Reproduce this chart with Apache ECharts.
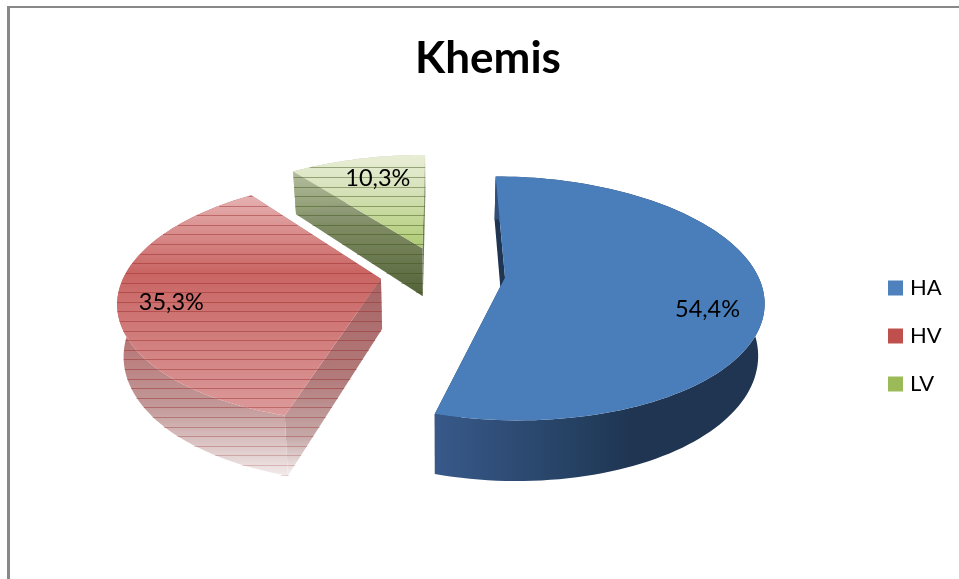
<!DOCTYPE html>
<html><head><meta charset="utf-8">
<style>html,body{margin:0;padding:0;background:#fff}#c{width:959px;height:579px}</style>
<script src="https://cdn.jsdelivr.net/npm/echarts@6/dist/echarts.min.js"></script></head>
<body><div id="c"></div>
<script>
const chartTitle = 'Khemis';
const categories = ['HA', 'HV', 'LV'];
const seriesValues = [54.4, 35.3, 10.3];
const legendColors = ['#4f81bd', '#c0504d', '#9bbb59'];

// Projection of the tilted pie (style constants, not data)
const CX = 441, CY = 273.5, RX = 256, RY = 117, K = 0.17, DEPTH = 50, SHRINK = 0.02;
const EXPLODE = [0.251, 0.237, 0.237], RIM_U = [0.985, 1, 1];
const LABEL_R = [0.775, 0.8, 0.65], LABEL_DY = [19, 6, -9];
const STRIPE_Y0 = 167.3, STRIPE_STEP = 9.6;
const G = echarts.graphic.LinearGradient;
const vGrad = s => new G(0, 0, 0, 1, s.map(c => ({offset: c[0], color: c[1]})));
const hGrad = s => new G(0, 0, 1, 0, s.map(c => ({offset: c[0], color: c[1]})));
const SKIN = [
  {top: '#4a7ebb', outer: hGrad([[0,'#38598a'],[0.45,'#243f60'],[0.6,'#1f3552'],[1,'#1f3552']]), wall: '#1f3552', stripe: null},
  {top: vGrad([[0,'#e6b2b2'],[0.35,'#c96563'],[0.6,'#cf7978'],[1,'#dc9b9b']]),
   outer: vGrad([[0,'#a86060'],[0.45,'#b56c6c'],[0.75,'#c29898'],[1,'#f2eaea']]),
   wall: vGrad([[0,'#a86464'],[0.5,'#b27a7a'],[0.8,'#c6a8a8'],[1,'#f6f0f0']]), stripe: [150,40,40]},
  {top: vGrad([[0,'#e8eed6'],[0.35,'#d8e3bd'],[1,'#aecb72']]),
   outer: vGrad([[0,'#c4cbb2'],[1,'#8c9a70']]),
   wall: vGrad([[0,'#b6bca8'],[0.45,'#7d8a62'],[1,'#54623a']]), stripe: [60,80,20]}
];
const total = seriesValues.reduce((a, b) => a + b, 0);
function proj(U, V, h) {
  const d = 1 + K * V, s = 1 - SHRINK * h;
  return [CX + RX * U / d * s, CY - RY * V / d + DEPTH * h / d];
}
function spans(polys, y) {
  const out = [];
  polys.forEach(p => {
    const xs = [];
    for (let i = 0; i < p.length; i++) {
      const a = p[i], b = p[(i + 1) % p.length];
      if ((a[1] <= y) !== (b[1] <= y)) xs.push(a[0] + (y - a[1]) / (b[1] - a[1]) * (b[0] - a[0]));
    }
    xs.sort((m, n) => m - n);
    for (let i = 0; i + 1 < xs.length; i += 2) out.push([xs[i], xs[i + 1]]);
  });
  out.sort((a, b) => a[0] - b[0]);
  const merged = [];
  out.forEach(s => {
    const l = merged[merged.length - 1];
    if (l && s[0] <= l[1] + 0.5) l[1] = Math.max(l[1], s[1]); else merged.push(s.slice());
  });
  return merged;
}
function slice(i, value) {
  const before = seriesValues.slice(0, i).reduce((a, b) => a + b, 0);
  const a0 = before / total * 2 * Math.PI, a1 = (before + value) / total * 2 * Math.PI;
  const mid = (a0 + a1) / 2;
  const ou = EXPLODE[i] * Math.sin(mid), ov = EXPLODE[i] * Math.cos(mid);
  const n = Math.ceil((a1 - a0) / 0.03);
  const rim = h => {
    const p = [];
    for (let j = 0; j <= n; j++) {
      const t = a0 + (a1 - a0) * j / n;
      p.push(proj(ou + RIM_U[i] * Math.sin(t), ov + Math.cos(t), h));
    }
    return p;
  };
  const apexT = proj(ou, ov, 0), apexB = proj(ou, ov, 1);
  const rT = rim(0), rB = rim(1);
  const top = [apexT].concat(rT);
  const outer = rT.concat(rB.slice().reverse());
  const startW = [apexT, rT[0], rB[0], apexB];
  const endW = [apexT, rT[n], rB[n], apexB];
  const sk = SKIN[i];
  const poly = (pts, fill) => ({type: 'polygon', shape: {points: pts}, style: {fill: fill, stroke: null}});
  const kids = [poly(endW, sk.wall), poly(startW, sk.wall), poly(outer, sk.outer), poly(top, sk.top)];
  if (sk.stripe) {
    const all = [top, outer, startW, endW];
    for (let y = STRIPE_Y0; y < 480; y += STRIPE_STEP) {
      const fade = Math.max(0, (y - 400) / 80);
      const col = 'rgba(' + sk.stripe.join(',') + ',' + (0.45 * (1 - 0.6 * fade)).toFixed(3) + ')';
      spans(all, y).forEach(s => kids.push({
        type: 'line', shape: {x1: s[0], y1: Math.round(y) + 0.5, x2: s[1], y2: Math.round(y) + 0.5},
        style: {stroke: col, lineWidth: 1}
      }));
    }
  }
  const lp = proj(ou + LABEL_R[i] * Math.sin(mid), ov + LABEL_R[i] * Math.cos(mid), 0);
  kids.push({type: 'text', style: {
    text: value.toFixed(1).replace('.', ',') + '%', x: lp[0], y: lp[1] + LABEL_DY[i],
    fill: '#000', font: '23.5px Lato', align: 'center', verticalAlign: 'middle'
  }});
  return {type: 'group', children: kids};
}
const order = [2, 1, 0];
const chart = echarts.init(document.getElementById('c'), null, {renderer: 'canvas'});
chart.setOption({
  animation: false,
  backgroundColor: '#fff',
  title: {text: chartTitle, left: 483, top: 32, textAlign: 'center',
    textStyle: {fontFamily: 'Lato', fontWeight: 'bold', fontSize: 44, color: '#000'}},
  legend: {orient: 'vertical', left: 883, top: 272, icon: 'rect', itemWidth: 15, itemHeight: 15, itemGap: 26,
    selectedMode: false, data: categories,
    textStyle: {fontFamily: 'Lato', fontSize: 22, lineHeight: 15, color: '#000', padding: [0, 0, 0, 2]}},
  graphic: [
    {type: 'rect', shape: {x: 7, y: 6, width: 952, height: 2}, style: {fill: '#888'}},
    {type: 'rect', shape: {x: 7, y: 6, width: 3, height: 573}, style: {fill: '#888'}}
  ],
  series: order.map(i => ({
    type: 'custom', name: categories[i], coordinateSystem: 'none', silent: true,
    itemStyle: {color: legendColors[i]},
    data: [seriesValues[i]],
    renderItem: (params, api) => slice(i, api.value(0))
  }))
});
</script></body></html>
